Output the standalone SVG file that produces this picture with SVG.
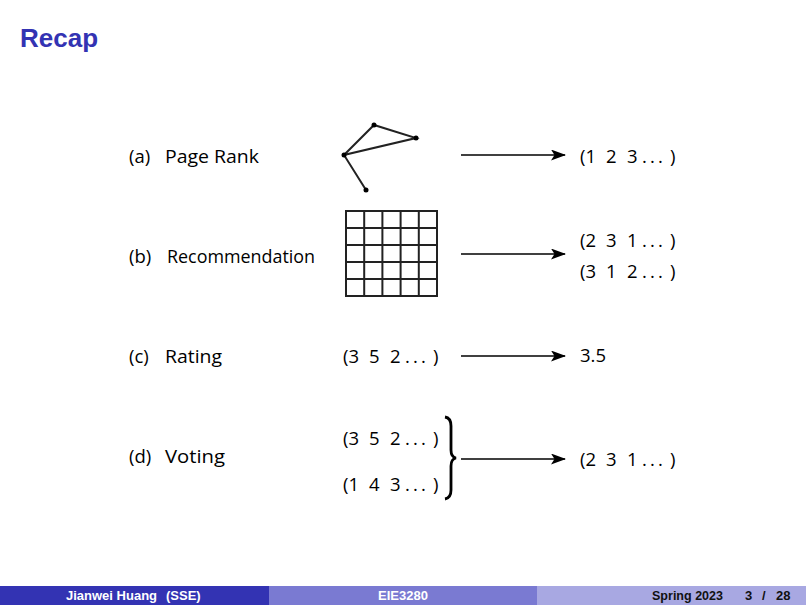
<svg xmlns="http://www.w3.org/2000/svg" width="806" height="605" viewBox="0 0 806 605">
<defs>
<marker id="ah" markerWidth="15" markerHeight="11" refX="14" refY="5.5" orient="auto" markerUnits="userSpaceOnUse">
<path d="M0,0 L15,5.5 L0,11 L3.5,5.5 Z" fill="#000"/>
</marker>
</defs>
<style>
.t{font-family:"Open Sans","DejaVu Sans",sans-serif;font-size:18.5px;fill:#000}
.f{font-family:"Liberation Sans",Arial,sans-serif;font-size:13px;font-weight:bold;fill:#fff;white-space:pre}
.fd{fill:#111}
.ln{stroke:#000;stroke-width:1.4;fill:none}
.g{stroke:#222;stroke-width:2;fill:none}
</style>
<rect width="806" height="605" fill="#fff"/>
<text x="20" y="47" font-family="Liberation Sans,Arial,sans-serif" font-size="26" font-weight="bold" fill="#3333b3">Recap</text>

<g id="row-a">
<text class="t" x="129" y="163">(a)</text>
<text class="t" x="165" y="163" textLength="94" lengthAdjust="spacingAndGlyphs">Page Rank</text>
<g id="graph">
<polyline class="g" points="344,155 374,125 416,138 344,155 366,190"/>
<circle cx="374" cy="125" r="2.5"/><circle cx="416" cy="138" r="2.5"/><circle cx="344" cy="155" r="2.5"/><circle cx="366" cy="190" r="2.5"/>
</g>
<text class="t" y="163"><tspan x="580">(1</tspan><tspan x="606">2</tspan><tspan x="627">3</tspan><tspan x="642">.</tspan><tspan x="650">.</tspan><tspan x="658">.</tspan><tspan x="670">)</tspan></text>
</g>

<g id="row-b">
<text class="t" x="129" y="263">(b)</text>
<text class="t" x="167" y="263" textLength="148" lengthAdjust="spacingAndGlyphs">Recommendation</text>
<g id="grid" class="g">
<rect x="346" y="211" width="91" height="85"/>
<path d="M364.2,211V296M382.4,211V296M400.6,211V296M418.8,211V296M346,228H437M346,245H437M346,262H437M346,279H437"/>
</g>
<text class="t" y="247"><tspan x="580">(2</tspan><tspan x="606">3</tspan><tspan x="627">1</tspan><tspan x="642">.</tspan><tspan x="650">.</tspan><tspan x="658">.</tspan><tspan x="670">)</tspan></text>
<text class="t" y="278"><tspan x="580">(3</tspan><tspan x="606">1</tspan><tspan x="627">2</tspan><tspan x="642">.</tspan><tspan x="650">.</tspan><tspan x="658">.</tspan><tspan x="670">)</tspan></text>
</g>

<g id="row-c">
<text class="t" x="129" y="363">(c)</text>
<text class="t" x="165" y="363" textLength="57" lengthAdjust="spacingAndGlyphs">Rating</text>
<text class="t" y="363"><tspan x="343">(3</tspan><tspan x="369">5</tspan><tspan x="390">2</tspan><tspan x="405">.</tspan><tspan x="413">.</tspan><tspan x="421">.</tspan><tspan x="433">)</tspan></text>
<text class="t" x="580" y="362">3.5</text>
</g>

<g id="row-d">
<text class="t" x="129" y="463">(d)</text>
<text class="t" x="165" y="463" textLength="60" lengthAdjust="spacingAndGlyphs">Voting</text>
<text class="t" y="445"><tspan x="343">(3</tspan><tspan x="369">5</tspan><tspan x="390">2</tspan><tspan x="405">.</tspan><tspan x="413">.</tspan><tspan x="421">.</tspan><tspan x="433">)</tspan></text>
<text class="t" y="491"><tspan x="343">(1</tspan><tspan x="369">4</tspan><tspan x="390">3</tspan><tspan x="405">.</tspan><tspan x="413">.</tspan><tspan x="421">.</tspan><tspan x="433">)</tspan></text>
<path d="M445,417 Q451,418 451,426 L451,450 Q451,457 456,458 Q451,459 451,466 L451,490 Q451,498 445,499" stroke="#000" stroke-width="2.8" fill="none"/>
<text class="t" y="466"><tspan x="580">(2</tspan><tspan x="606">3</tspan><tspan x="627">1</tspan><tspan x="642">.</tspan><tspan x="650">.</tspan><tspan x="658">.</tspan><tspan x="670">)</tspan></text>
</g>

<g id="connectors" class="ln">
<line x1="461" y1="155" x2="565" y2="155" marker-end="url(#ah)"/>
<line x1="461" y1="254" x2="565" y2="254" marker-end="url(#ah)"/>
<line x1="461" y1="356" x2="565" y2="356" marker-end="url(#ah)"/>
<line x1="461" y1="459" x2="565" y2="459" marker-end="url(#ah)"/>
</g>

<g id="footer">
<rect x="0" y="586" width="269" height="19" fill="#3333b3"/>
<rect x="269" y="586" width="268" height="19" fill="#7a7ad2"/>
<rect x="537" y="586" width="269" height="19" fill="#a8a8e2"/>
<text class="f" y="600"><tspan x="66">Jianwei Huang</tspan><tspan x="166">(SSE)</tspan></text>
<text class="f" x="403" y="600" text-anchor="middle">EIE3280</text>
<text class="f fd" x="652" y="600" textLength="71" lengthAdjust="spacingAndGlyphs">Spring 2023</text>
<text class="f fd" y="600"><tspan x="745">3</tspan><tspan x="762">/</tspan><tspan x="776">28</tspan></text>
</g>
</svg>
